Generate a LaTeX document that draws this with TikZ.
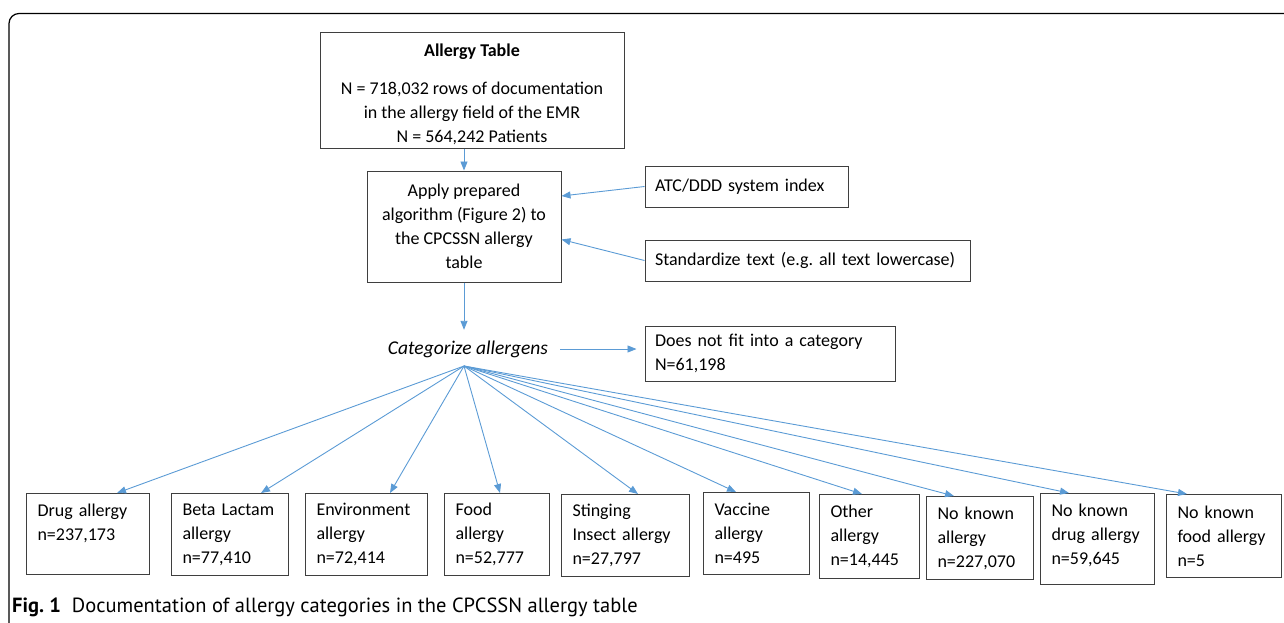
\documentclass[tikz,border=0pt]{standalone}
\usepackage{fontspec}
\setmainfont{Carlito}
\newfontfamily\capfont{PT Sans}
\usepackage{xcolor}
\usetikzlibrary{positioning,arrows.meta}
\definecolor{flowblue}{HTML}{5B9BD5}
\definecolor{boxline}{HTML}{3F3F3F}
\frenchspacing

\begin{document}
\begin{tikzpicture}[x=1pt, y=-1pt,
  every node/.style={font=\fontsize{18}{24}\selectfont},
  box/.style={draw=boxline, line width=1pt, align=center, inner sep=0pt},
  sidebox/.style={draw=boxline, line width=1pt, align=left, inner xsep=10pt, inner ysep=0pt},
  catbox/.style={draw=boxline, line width=1pt, align=left, anchor=north west,
    inner xsep=11pt, inner ysep=0pt, minimum height=82pt},
  flow/.style={draw=flowblue, line width=0.9pt, -{Triangle[length=9pt,width=7pt]}}
]
\useasboundingbox (0,0) rectangle (1284,622);
\draw[line width=1.2pt, rounded corners=10pt] (9,640) |- (1300,13.5);

\node[box, minimum width=304pt, minimum height=116pt] (alltab) at (472,90)
  {\textbf{Allergy Table}\\[14pt]N = 718,032 rows of documentation\\in the allergy field of the EMR\\N = 564,242 Patients\\[-30pt]\mbox{}};
\node[box, minimum width=194pt, minimum height=111pt] (apply) at (464,226.5)
  {Apply prepared\\algorithm (Figure 2) to\\the CPCSSN allergy\\table};
\node[sidebox, text width=183pt, minimum height=41pt] (atc) at (746.5,186.5) {ATC/DDD system index};
\node[sidebox, text width=305pt, minimum height=41pt] (std) at (807.5,260.5) {Standardize text (e.g. all text lowercase)};
\node[inner xsep=12pt, inner ysep=0pt, minimum height=38pt, font=\fontsize{19.5}{24}\selectfont\itshape] (cat) at (468,349) {Categorize allergens};
\node[sidebox, text width=230pt, minimum height=55pt] (nofit) at (770,353.5) {Does not fit into a category\\N=61,198};

\node[catbox, text width=101pt, minimum height=81pt] (drug) at (26,493) {Drug allergy\\n=237,173\\\mbox{}};
\node[catbox, text width=95pt] (beta) at (171,493) {Beta Lactam\\allergy\\n=77,410};
\node[catbox, text width=100pt] (env) at (305,493) {Environment\\allergy\\n=72,414};
\node[catbox, text width=83pt] (food) at (444,493) {Food\\allergy\\n=52,777};
\node[catbox, text width=106pt] (sting) at (561,494) {Stinging\\Insect allergy\\n=27,797};
\node[catbox, text width=84pt] (vacc) at (703,492) {Vaccine\\allergy\\n=495};
\node[catbox, text width=78pt, minimum height=84pt] (other) at (819,494) {Other\\allergy\\n=14,445};
\node[catbox, text width=85pt, minimum height=83pt] (nka) at (926,496) {No known\\allergy\\n=227,070};
\node[catbox, text width=92pt, minimum height=91pt] (nkda) at (1040,493) {No known\\drug allergy\\n=59,645\\[-14pt]\mbox{}};
\node[catbox, text width=93pt, minimum height=83pt] (nkfa) at (1166,494) {No known\\food allergy\\n=5};

\node[anchor=west, inner sep=0pt, font=\capfont\fontsize{20.5}{22}\selectfont] (caption) at (12,607)
  {\textbf{Fig. 1}\hspace{11pt}Documentation of allergy categories in the CPCSSN allergy table};

\draw[flow] (apply.north |- alltab.south) -- (apply.north);
\draw[flow] (atc.west) -- ([yshift=30.5pt]apply.east);
\draw[flow] (std.west) -- ([yshift=-13pt]apply.east);
\draw[flow] (apply.south) -- (apply.south |- cat.north);
\draw[flow, shorten >=8pt] (cat.east) -- (cat.east -| nofit.west);

\coordinate (fan) at (464,366);
\draw[flow] (fan) -- ([xshift=91pt]drug.north west);
\draw[flow] (fan) -- ([xshift=90pt]beta.north west);
\draw[flow] (fan) -- ([xshift=85pt]env.north west);
\draw[flow] (fan) -- ([xshift=56pt]food.north west);
\draw[flow] (fan) -- ([xshift=77pt]sting.north west);
\draw[flow] (fan) -- ([xshift=33pt]vacc.north west);
\draw[flow] (fan) -- ([xshift=43pt]other.north west);
\draw[flow] (fan) -- ([xshift=28pt]nka.north west);
\draw[flow] (fan) -- ([xshift=29pt]nkda.north west);
\draw[flow] (fan) -- ([xshift=21pt]nkfa.north west);
\end{tikzpicture}
\end{document}
